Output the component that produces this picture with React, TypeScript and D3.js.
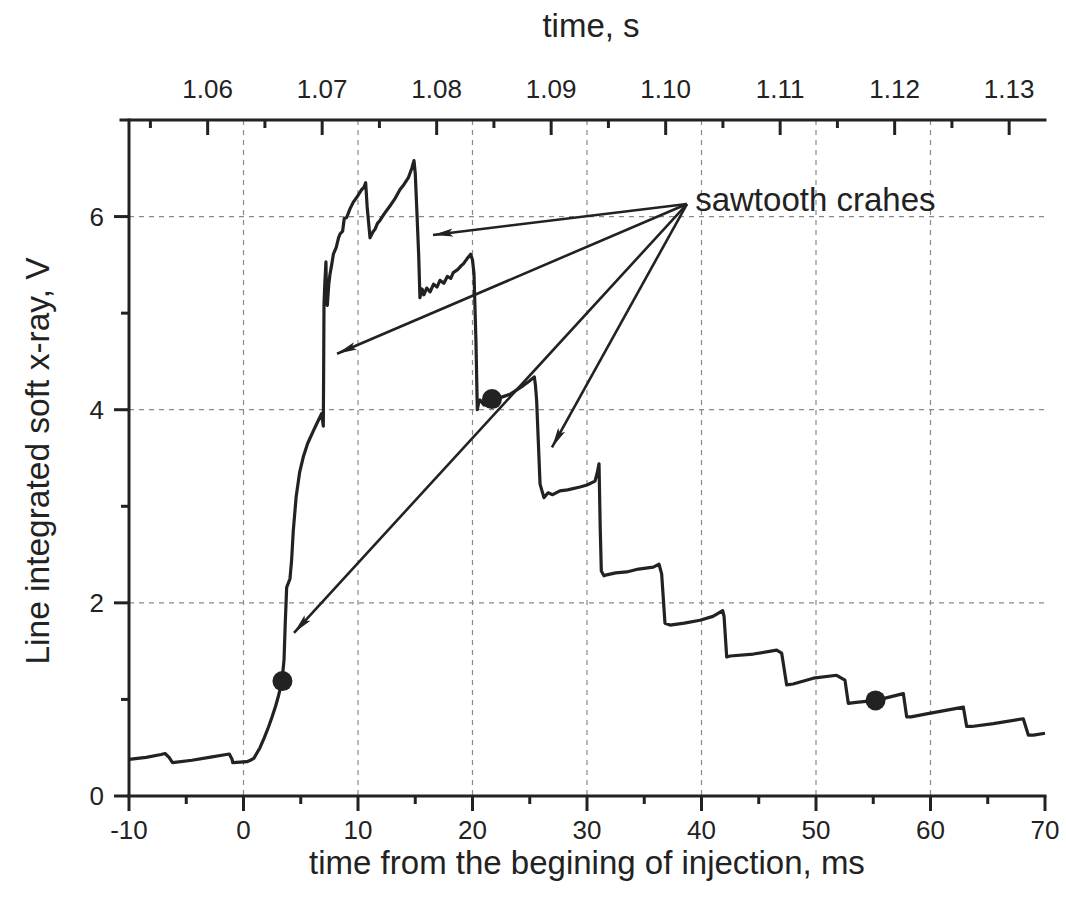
import React from "react";
import * as d3 from "d3";

// Soft x-ray trace: time from start of injection (ms) and signal (V)
const traceMs = [
  -10, -8.5, -7.2, -6.85, -6.5, -6.2, -4.5, -3, -1.5, -1.24, -1.0, -0.94, -0.3, 0.3, 0.6, 0.9,
  1.44, 1.8, 2.2, 2.5, 2.8, 3.04, 3.36, 3.54, 3.65, 3.77, 4.06, 4.2, 4.35, 4.6, 4.9, 5.22,
  5.6, 6.1, 6.5, 6.83, 6.97, 7.0, 7.03, 7.1, 7.2, 7.26, 7.32, 7.45, 7.55, 7.7, 7.85, 8.1,
  8.3, 8.43, 8.66, 8.8, 9.01, 9.3, 9.59, 9.9, 10.32, 10.5, 10.67, 10.8, 11.05, 11.3, 11.49, 11.7,
  11.92, 12.3, 12.79, 13.2, 13.67, 14.0, 14.39, 14.7, 14.89, 15.0, 15.13, 15.3, 15.41, 15.6, 15.75, 16.0,
  16.3, 16.6, 16.9, 17.16, 17.5, 17.8, 18.1, 18.32, 18.7, 19.0, 19.2, 19.5, 19.84, 20.0, 20.13, 20.3,
  20.42, 20.55, 20.66, 21.0, 21.68, 22.3, 23.27, 23.8, 24.44, 25.0, 25.4, 25.5, 25.6, 25.9, 26.24, 26.6,
  27.0, 27.64, 28.3, 29.39, 30.0, 30.7, 30.9, 31.05, 31.15, 31.25, 31.48, 31.72, 32.5, 33.46, 34.5, 35.79,
  36.29, 36.52, 36.81, 37.25, 38.5, 39.87, 41.0, 41.85, 41.97, 42.2, 42.5, 44.53, 46.57, 47.0, 47.44, 48.0,
  49.77, 51.8, 52.53, 52.82, 53.5, 55.24, 57.63, 57.92, 58.3, 59.66, 62.87, 63.16, 63.6, 65.49, 68.1, 68.55,
  69.0, 70.0,
];
const traceV = [
  0.38, 0.4, 0.43, 0.44, 0.4, 0.345, 0.37, 0.4, 0.43, 0.435, 0.38, 0.345, 0.35, 0.355, 0.37, 0.39,
  0.5, 0.6, 0.72, 0.82, 0.93, 1.03, 1.19, 1.41, 1.8, 2.16, 2.25, 2.44, 2.75, 3.1, 3.35, 3.51,
  3.65, 3.78, 3.88, 3.96, 3.83, 4.4, 5.09, 5.3, 5.53, 5.1, 5.08, 5.3, 5.4, 5.5, 5.61, 5.68,
  5.78, 5.82, 5.85, 5.98, 5.99, 6.08, 6.15, 6.2, 6.28, 6.3, 6.35, 6.1, 5.78, 5.84, 5.87, 5.93,
  5.96, 6.03, 6.11, 6.18, 6.28, 6.33, 6.4, 6.5, 6.58, 6.45, 6.09, 5.6, 5.16, 5.25, 5.19, 5.26,
  5.22, 5.3, 5.27, 5.34, 5.31, 5.38, 5.36, 5.42, 5.45, 5.49, 5.51, 5.56, 5.61, 5.55, 5.41, 4.72,
  4.0, 4.08, 4.1, 4.05, 4.11, 4.12, 4.16, 4.2, 4.25, 4.3, 4.34, 4.25, 4.1, 3.23, 3.09, 3.14,
  3.12, 3.16, 3.17, 3.2, 3.22, 3.26, 3.35, 3.44, 2.8, 2.33, 2.28, 2.29, 2.31, 2.32, 2.35, 2.37,
  2.4, 2.3, 1.79, 1.77, 1.79, 1.82, 1.86, 1.92, 1.86, 1.44, 1.45, 1.47, 1.51, 1.48, 1.15, 1.16,
  1.22, 1.25, 1.2, 0.96, 0.97, 0.99, 1.06, 0.82, 0.82, 0.85, 0.92, 0.72, 0.72, 0.75, 0.8, 0.63,
  0.63, 0.65,
];

// Highlighted instants
const dotMs = [3.4, 21.7, 55.2];
const dotV = [1.19, 4.11, 0.99];

// Annotation: label anchor, arrow origin and arrow tips (data units)
const noteLabel = "sawtooth crahes";
const noteTextAt = [39.45, 6.06];
const noteFrom = [38.73, 6.13];
const noteTipsMs = [16.55, 8.17, 4.41, 26.94];
const noteTipsV = [5.81, 4.58, 1.69, 3.61];

// Axes
const bottomTicks = [-10, 0, 10, 20, 30, 40, 50, 60, 70];
const bottomMinor = [-5, 5, 15, 25, 35, 45, 55, 65];
const gridMs = [0, 10, 20, 30, 40, 50, 60];
const leftTicks = [0, 2, 4, 6];
const leftMinor = [1, 3, 5];
const gridV = [2, 4, 6];
const topTicks = [1.06, 1.07, 1.08, 1.09, 1.1, 1.11, 1.12, 1.13];
const topMinor = [1.055, 1.065, 1.075, 1.085, 1.095, 1.105, 1.115, 1.125];
const injectionStartS = 1.06313;

const FONT = "'Liberation Sans', Arial, Helvetica, sans-serif";
const INK = "#222";

export default function App() {
  const left = 129, right = 1045, top = 120, bottom = 796;
  const x = d3.scaleLinear().domain([-10, 70]).range([left, right]);
  const xTop = d3
    .scaleLinear()
    .domain([injectionStartS - 0.01, injectionStartS + 0.07])
    .range([left, right]);
  const y = d3.scaleLinear().domain([0, 7]).range([bottom, top]);

  const line = d3
    .line<number>()
    .x((_, i) => x(traceMs[i]))
    .y((_, i) => y(traceV[i]))
    .curve(d3.curveLinear);

  const fromX = x(noteFrom[0]);
  const fromY = y(noteFrom[1]);

  return (
    <svg
      width={1066}
      height={906}
      style={{ position: "absolute", left: 0, top: 0, background: "#fff" }}
      fontFamily={FONT}
    >
      <defs>
        <marker
          id="head"
          viewBox="0 0 20 10"
          refX={20}
          refY={5}
          markerWidth={20}
          markerHeight={10}
          markerUnits="userSpaceOnUse"
          orient="auto"
        >
          <path d="M0,1 L20,5 L0,9 L4,5 Z" fill={INK} />
        </marker>
      </defs>

      {/* grid */}
      <g stroke="#8a8a8a" strokeWidth={1.2} strokeDasharray="5,5">
        {gridMs.map((t) => (
          <line key={"gx" + t} x1={x(t)} x2={x(t)} y1={top} y2={bottom} />
        ))}
        {gridV.map((v) => (
          <line key={"gy" + v} x1={left} x2={right} y1={y(v)} y2={y(v)} />
        ))}
      </g>

      {/* trace */}
      <path
        d={line(traceMs) || ""}
        fill="none"
        stroke={INK}
        strokeWidth={3.2}
        strokeLinejoin="round"
      />

      {/* markers */}
      {dotMs.map((t, i) => (
        <circle key={"d" + i} cx={x(t)} cy={y(dotV[i])} r={10} fill={INK} />
      ))}

      {/* annotation arrows */}
      <g stroke={INK} strokeWidth={2.6}>
        {noteTipsMs.map((t, i) => (
          <line
            key={"a" + i}
            x1={fromX}
            y1={fromY}
            x2={x(t)}
            y2={y(noteTipsV[i])}
            markerEnd="url(#head)"
          />
        ))}
      </g>
      <text
        x={x(noteTextAt[0])}
        y={y(noteTextAt[1])}
        fontSize={33}
        fill={INK}
      >
        {noteLabel}
      </text>

      {/* axes lines */}
      <g stroke={INK} strokeWidth={3} strokeLinecap="square">
        <line x1={left} x2={left} y1={top} y2={bottom} />
        <line x1={left} x2={right} y1={bottom} y2={bottom} />
        <line x1={left - 8} x2={right} y1={top} y2={top} />
      </g>

      {/* bottom axis */}
      <g stroke={INK} strokeWidth={3}>
        {bottomTicks.map((t) => (
          <line key={"bt" + t} x1={x(t)} x2={x(t)} y1={bottom} y2={bottom + 15} />
        ))}
        {bottomMinor.map((t) => (
          <line key={"bm" + t} x1={x(t)} x2={x(t)} y1={bottom} y2={bottom + 8} />
        ))}
      </g>
      <g fontSize={26} fill={INK} textAnchor="middle">
        {bottomTicks.map((t) => (
          <text key={"bl" + t} x={x(t)} y={839}>
            {t}
          </text>
        ))}
      </g>
      <text x={587} y={874} fontSize={33} fill={INK} textAnchor="middle">
        time from the begining of injection, ms
      </text>

      {/* left axis */}
      <g stroke={INK} strokeWidth={3}>
        {leftTicks.map((v) => (
          <line key={"lt" + v} x1={left - 15} x2={left} y1={y(v)} y2={y(v)} />
        ))}
        {leftMinor.map((v) => (
          <line key={"lm" + v} x1={left - 8} x2={left} y1={y(v)} y2={y(v)} />
        ))}
      </g>
      <g fontSize={26} fill={INK} textAnchor="end">
        {leftTicks.map((v) => (
          <text key={"ll" + v} x={104} y={y(v) + 9}>
            {v}
          </text>
        ))}
      </g>
      <text
        transform={`translate(49, 461) rotate(-90)`}
        fontSize={33.5}
        fill={INK}
        textAnchor="middle"
      >
        Line integrated soft x-ray, V
      </text>

      {/* top axis */}
      <g stroke={INK} strokeWidth={3}>
        {topTicks.map((s) => (
          <line key={"tt" + s} x1={xTop(s)} x2={xTop(s)} y1={top} y2={top + 15} />
        ))}
        {topMinor.map((s) => (
          <line key={"tm" + s} x1={xTop(s)} x2={xTop(s)} y1={top} y2={top + 8} />
        ))}
      </g>
      <g fontSize={26} fill={INK} textAnchor="middle">
        {topTicks.map((s) => (
          <text key={"tl" + s} x={xTop(s)} y={98}>
            {d3.format(".2f")(s)}
          </text>
        ))}
      </g>
      <text x={591} y={37} fontSize={33} fill={INK} textAnchor="middle">
        time, s
      </text>
    </svg>
  );
}
